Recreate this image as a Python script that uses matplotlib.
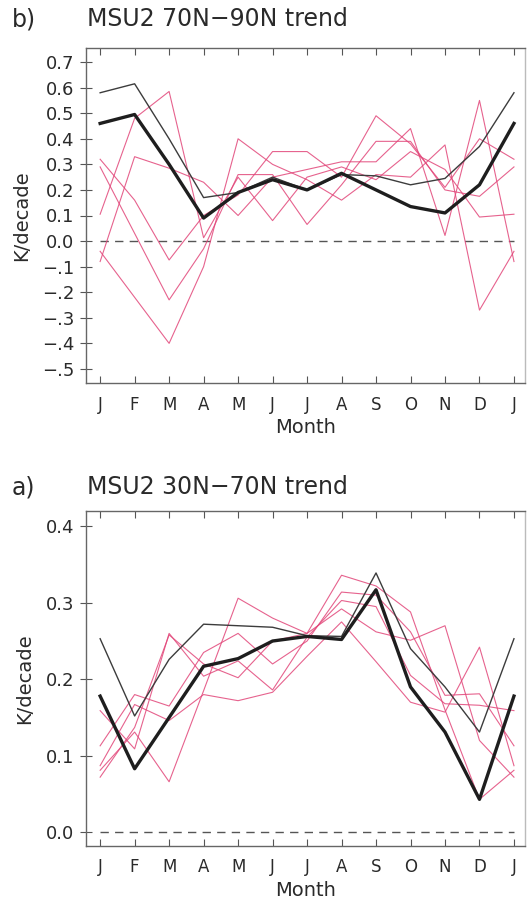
import matplotlib
matplotlib.use("Agg")
import matplotlib.pyplot as plt

# month axis: Jan..Dec and Jan again (cyclic)
months = ["J", "F", "M", "A", "M", "J", "J", "A", "S", "O", "N", "D", "J"]
x = list(range(len(months)))

# ---- panel b) MSU2 70N-90N ----
b_obs_thin = [0.58, 0.615, 0.40, 0.17, 0.19, 0.25, 0.20, 0.26, 0.255, 0.22, 0.245, 0.37, 0.58]
b_obs_thick = [0.46, 0.495, 0.30, 0.09, 0.19, 0.24, 0.20, 0.265, 0.20, 0.135, 0.11, 0.22, 0.46]
b_run1 = [0.105, 0.48, 0.585, 0.013, 0.25, 0.08, 0.25, 0.29, 0.24, 0.35, 0.28, 0.094, 0.105]
b_run2 = [-0.08, 0.33, 0.285, 0.23, 0.10, 0.25, 0.28, 0.31, 0.31, 0.44, 0.022, 0.55, -0.08]
b_run3 = [0.32, 0.16, -0.074, 0.10, 0.18, 0.35, 0.35, 0.25, 0.49, 0.38, 0.21, 0.40, 0.32]
b_run4 = [0.29, 0.03, -0.23, -0.03, 0.26, 0.26, 0.065, 0.22, 0.39, 0.39, 0.20, 0.175, 0.29]
b_run5 = [-0.04, -0.22, -0.40, -0.10, 0.40, 0.30, 0.24, 0.16, 0.26, 0.25, 0.376, -0.27, -0.04]
b_yticks = [0.7, 0.6, 0.5, 0.4, 0.3, 0.2, 0.1, 0.0, -0.1, -0.2, -0.3, -0.4, -0.5]
b_ylabels = ["0.7", "0.6", "0.5", "0.4", "0.3", "0.2", "0.1", "0.0",
             "\u2212.1", "\u2212.2", "\u2212.3", "\u2212.4", "\u2212.5"]

# ---- panel a) MSU2 30N-70N ----
a_obs_thin = [0.253, 0.152, 0.226, 0.272, 0.27, 0.268, 0.257, 0.256, 0.339, 0.24, 0.19, 0.131, 0.253]
a_obs_thick = [0.178, 0.083, 0.15, 0.217, 0.227, 0.25, 0.256, 0.252, 0.317, 0.19, 0.131, 0.043, 0.178]
a_run1 = [0.159, 0.109, 0.26, 0.204, 0.224, 0.186, 0.255, 0.303, 0.295, 0.205, 0.168, 0.166, 0.159]
a_run2 = [0.072, 0.137, 0.258, 0.22, 0.202, 0.25, 0.26, 0.292, 0.262, 0.251, 0.27, 0.12, 0.072]
a_run3 = [0.113, 0.18, 0.165, 0.235, 0.26, 0.22, 0.25, 0.314, 0.31, 0.262, 0.179, 0.181, 0.113]
a_run4 = [0.087, 0.167, 0.146, 0.18, 0.172, 0.183, 0.23, 0.275, 0.223, 0.17, 0.157, 0.242, 0.087]
a_run5 = [0.081, 0.131, 0.066, 0.185, 0.306, 0.28, 0.26, 0.336, 0.322, 0.288, 0.16, 0.043, 0.081]
a_yticks = [0.0, 0.1, 0.2, 0.3, 0.4]
a_ylabels = ["0.0", "0.1", "0.2", "0.3", "0.4"]

PINK = "#e2477a"
GREY = "#555555"
TXT = "#2a2a2a"

plt.rcParams["font.family"] = ["DejaVu Sans"]

fig = plt.figure(figsize=(5.3, 9.02), dpi=100)
ax_b = fig.add_axes([86 / 530, 1 - 383 / 902, 439 / 530, 335 / 902])
ax_a = fig.add_axes([86 / 530, 1 - 846 / 902, 439 / 530, 335 / 902])


def draw_panel(ax, runs, thin, thick, yticks, ylabels, ylim):
    ax.plot(x, [0] * len(x), color=GREY, lw=1.0, dashes=(6, 4.5), zorder=1)
    for r in runs:
        ax.plot(x, r, color=PINK, lw=0.8, alpha=0.85, zorder=2)
    ax.plot(x, thin, color="#3c3c3c", lw=1.0, zorder=3)
    ax.plot(x, thick, color="#1e1e1e", lw=2.4, zorder=4)

    ax.set_xlim(-0.41, 12.32)
    ax.set_ylim(*ylim)
    ax.set_xticks(x)
    ax.set_xticklabels(months, fontsize=12, color=TXT)
    ax.set_yticks(yticks)
    ax.set_yticklabels(ylabels, fontsize=13, color=TXT)
    ax.tick_params(axis="x", direction="in", top=True, bottom=True,
                   length=5, width=0.8, color=GREY, pad=9)
    ax.tick_params(axis="y", direction="inout", left=True, right=False,
                   length=9, width=0.8, color=GREY, pad=4)
    for s in ax.spines.values():
        s.set_color("#666666")
        s.set_linewidth(1.0)
    ax.spines["right"].set_color("#bbbbbb")
    ax.set_xlabel("Month", fontsize=14, color=TXT, labelpad=3)
    ax.set_ylabel("K/decade", fontsize=14, color=TXT, labelpad=8)


draw_panel(ax_b, [b_run1, b_run2, b_run3, b_run4, b_run5],
           b_obs_thin, b_obs_thick, b_yticks, b_ylabels, (-0.555, 0.755))
draw_panel(ax_a, [a_run1, a_run2, a_run3, a_run4, a_run5],
           a_obs_thin, a_obs_thick, a_yticks, a_ylabels, (-0.018, 0.42))

# panel titles
fig.text(12 / 530, 1 - 19 / 902, "b)", fontsize=17, color=TXT, va="center")
fig.text(87 / 530, 1 - 19 / 902, "MSU2 70N\u221290N trend", fontsize=17,
         color=TXT, va="center")
fig.text(12 / 530, 1 - 487 / 902, "a)", fontsize=17, color=TXT, va="center")
fig.text(87 / 530, 1 - 487 / 902, "MSU2 30N\u221270N trend", fontsize=17,
         color=TXT, va="center")

fig.savefig("out.png", dpi=100, facecolor="white")
